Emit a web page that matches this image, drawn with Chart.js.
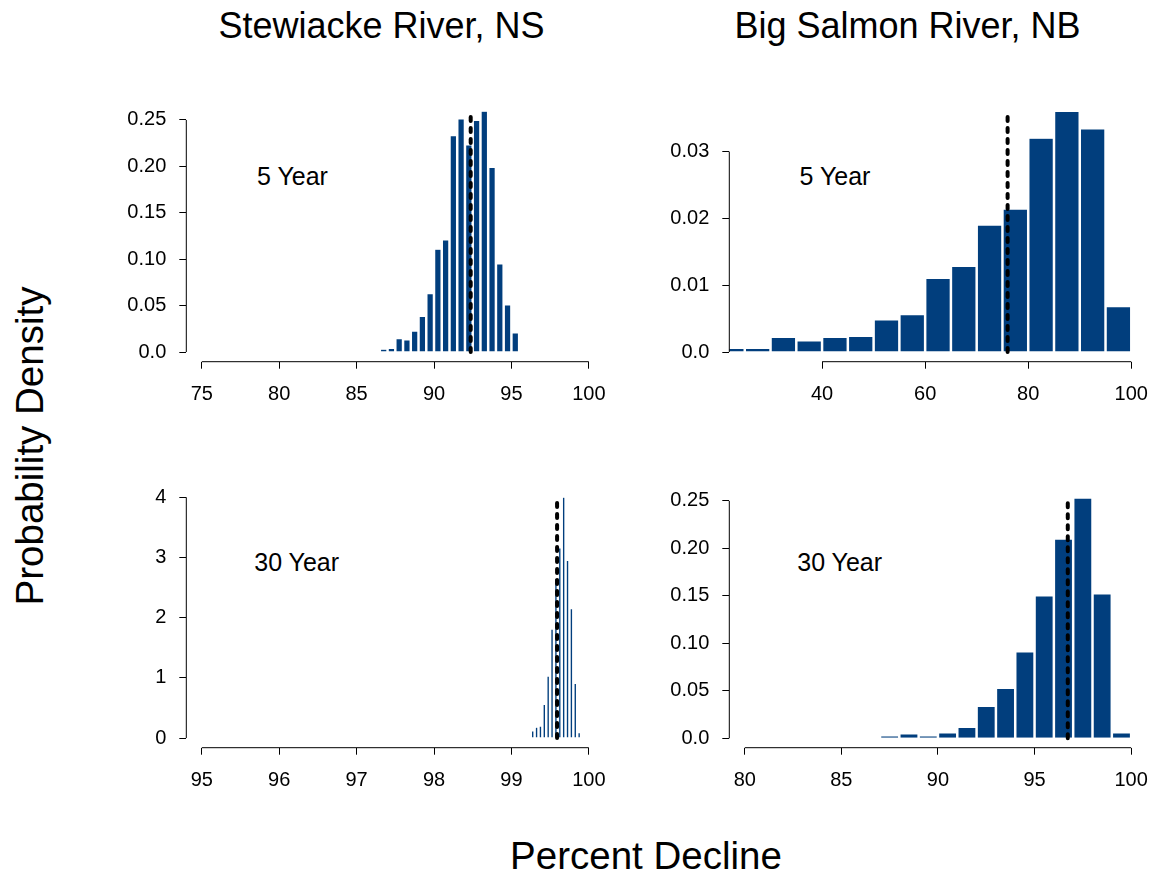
<!DOCTYPE html>
<html>
<head>
<meta charset="utf-8">
<script src="https://cdn.jsdelivr.net/npm/chart.js@4.4.1/dist/chart.umd.min.js"></script>
<style>
  html, body { margin: 0; padding: 0; background: #fff; }
  body {
    width: 1156px; height: 878px; position: relative; overflow: hidden;
    font-family: "Liberation Sans", Arial, Helvetica, sans-serif; color: #000;
  }
  canvas { position: absolute; }
  .t { position: absolute; white-space: nowrap; line-height: 1; transform: translate(-50%, -50%); }
  .title { font-size: 36px; }
  .axis { font-size: 38.5px; }
  .note { font-size: 25px; }
</style>
</head>
<body>
<div class="t title" style="left:381.5px; top:26px;">Stewiacke River, NS</div>
<div class="t title" style="left:907.5px; top:26px;">Big Salmon River, NB</div>
<div class="t axis" style="left:30px; top:446px; transform: translate(-50%, -50%) rotate(-90deg);">Probability Density</div>
<div class="t axis" style="left:646px; top:856px;">Percent Decline</div>
<div class="t note" style="left:292.5px; top:176px;">5 Year</div>
<div class="t note" style="left:835px; top:176px;">5 Year</div>
<div class="t note" style="left:296.7px; top:562px;">30 Year</div>
<div class="t note" style="left:839.7px; top:562px;">30 Year</div>

<canvas id="p1" width="530" height="330" style="left:100px; top:90px;"></canvas>
<canvas id="p2" width="530" height="330" style="left:640px; top:90px;"></canvas>
<canvas id="p3" width="530" height="330" style="left:100px; top:476px;"></canvas>
<canvas id="p4" width="530" height="330" style="left:640px; top:476px;"></canvas>

<script>
// Stewiacke River, 5-year decline (bins of 0.5 percentage points)
const stewiacke5Centers = [86.75, 87.25, 87.75, 88.25, 88.75, 89.25, 89.75, 90.25, 90.75,
                           91.25, 91.75, 92.25, 92.75, 93.25, 93.75, 94.25, 94.75, 95.25];
const stewiacke5Density = [0.003, 0.004, 0.0143, 0.013, 0.0226, 0.0385, 0.0629, 0.1107, 0.1207,
                           0.2332, 0.2512, 0.2231, 0.2494, 0.2594, 0.199, 0.0949, 0.0507, 0.0205];
const stewiacke5Median = 92.37;

// Big Salmon River, 5-year decline (bins of 5 percentage points)
const salmon5Centers = [22.5, 27.5, 32.5, 37.5, 42.5, 47.5, 52.5, 57.5,
                        62.5, 67.5, 72.5, 77.5, 82.5, 87.5, 92.5, 97.5];
const salmon5Density = [0.00055, 0.00055, 0.0022, 0.00165, 0.0022, 0.00235, 0.0048, 0.0056,
                        0.011, 0.0128, 0.019, 0.0214, 0.032, 0.036, 0.0334, 0.0068];
const salmon5Median = 76.0;

// Stewiacke River, 30-year decline (bins of 0.05 percentage points)
const stewiacke30Centers = [99.275, 99.325, 99.375, 99.425, 99.475, 99.525, 99.575,
                            99.625, 99.675, 99.725, 99.775, 99.825, 99.875];
const stewiacke30Density = [0.12, 0.18, 0.20, 0.56, 1.03, 1.81, 2.65,
                            3.16, 4.00, 2.95, 2.15, 0.91, 0.09];
const stewiacke30Median = 99.59;

// Big Salmon River, 30-year decline (bins of 1 percentage point)
const salmon30Centers = [87.5, 88.5, 89.5, 90.5, 91.5, 92.5, 93.5,
                         94.5, 95.5, 96.5, 97.5, 98.5, 99.5];
const salmon30Density = [0.0024, 0.0046, 0.0024, 0.0056, 0.0116, 0.0337, 0.0526,
                         0.0909, 0.1498, 0.2098, 0.2529, 0.1519, 0.0056];
const salmon30Median = 96.72;

// Axis ticks and their labels
const stewiacke5XTicks = [75, 80, 85, 90, 95, 100];
const salmon5XTicks = [40, 60, 80, 100];
const stewiacke30XTicks = [95, 96, 97, 98, 99, 100];
const salmon30XTicks = [80, 85, 90, 95, 100];

const densityYTicks = [0, 0.05, 0.10, 0.15, 0.20, 0.25];
const densityYLabels = ['0.0', '0.05', '0.10', '0.15', '0.20', '0.25'];
const salmon5YTicks = [0, 0.01, 0.02, 0.03];
const salmon5YLabels = ['0.0', '0.01', '0.02', '0.03'];
const stewiacke30YTicks = [0, 1, 2, 3, 4];
const stewiacke30YLabels = ['0', '1', '2', '3', '4'];

const BAR_FILL = '#013e7d';
const FONT = { family: '"Liberation Sans", Arial, Helvetica, sans-serif', size: 20 };

// Axis lines that run from the first to the last tick only
const tickSpanAxes = {
  id: 'tickSpanAxes',
  afterDraw(chart) {
    const { ctx, chartArea } = chart;
    const xs = chart.scales.x, ys = chart.scales.y;
    ctx.save();
    ctx.strokeStyle = '#000';
    ctx.lineWidth = 1;
    ctx.beginPath();
    const xt = xs.ticks;
    ctx.moveTo(xs.getPixelForValue(xt[0].value), chartArea.bottom);
    ctx.lineTo(xs.getPixelForValue(xt[xt.length - 1].value), chartArea.bottom);
    const yt = ys.ticks;
    ctx.moveTo(chartArea.left, ys.getPixelForValue(yt[0].value));
    ctx.lineTo(chartArea.left, ys.getPixelForValue(yt[yt.length - 1].value));
    ctx.stroke();
    ctx.restore();
  }
};

function histogram(canvasId, opt) {
  const canvas = document.getElementById(canvasId);
  const cLeft = parseFloat(canvas.style.left), cTop = parseFloat(canvas.style.top);
  const area = opt.area;
  const yWidth = area.left - cLeft;
  const xHeight = cTop + canvas.height - area.bottom;
  const padTop = area.top - cTop;
  const padRight = cLeft + canvas.width - area.right;
  const peak = Math.max(...opt.density);

  const fixedTicks = (values) => (scale) => {
    scale.ticks = values.map(v => ({ value: v }));
  };

  return new Chart(canvas, {
    type: 'bar',
    data: {
      datasets: [
        {
          type: 'line',
          order: 0,
          data: [{ x: opt.median, y: 0 }, { x: opt.median, y: peak }],
          borderColor: '#000',
          borderWidth: 4,
          borderDash: [4, 7],
          borderCapStyle: 'round',
          pointRadius: 0,
          fill: false,
          clip: false
        },
        {
          type: 'bar',
          order: 1,
          data: opt.centers.map((c, i) => ({ x: c, y: opt.density[i] })),
          backgroundColor: BAR_FILL,
          borderColor: '#ffffff',
          borderWidth: { top: 0.6, left: 1.25, right: 1.25, bottom: 0 },
          borderSkipped: false,
          inflateAmount: 0,
          barPercentage: 1,
          categoryPercentage: 1,
          grouped: false,
          clip: 0
        }
      ]
    },
    options: {
      responsive: false,
      animation: false,
      events: [],
      layout: { autoPadding: false, padding: { top: padTop, right: padRight, left: 0, bottom: 0 } },
      plugins: { legend: { display: false }, tooltip: { enabled: false } },
      scales: {
        x: {
          type: 'linear',
          position: 'bottom',
          min: opt.xRange[0], max: opt.xRange[1],
          offset: false,
          grid: { display: true, offset: false, drawOnChartArea: false, drawTicks: true, tickLength: 7, color: '#000', lineWidth: 1 },
          border: { display: false },
          ticks: {
            autoSkip: false, maxRotation: 0, padding: 14, color: '#000', font: FONT,
            callback: (v, i) => String(opt.xTicks[i])
          },
          afterBuildTicks: fixedTicks(opt.xTicks),
          afterFit: (s) => { s.height = xHeight; s.paddingLeft = 0; s.paddingRight = 0; s.paddingTop = 0; s.paddingBottom = 0; }
        },
        y: {
          type: 'linear',
          min: opt.yRange[0], max: opt.yRange[1],
          grid: { display: true, drawOnChartArea: false, drawTicks: true, tickLength: 7, color: '#000', lineWidth: 1 },
          border: { display: false },
          ticks: {
            autoSkip: false, padding: 13, color: '#000', font: FONT,
            callback: (v, i) => opt.yLabels[i]
          },
          afterBuildTicks: fixedTicks(opt.yTicks),
          afterFit: (s) => { s.width = yWidth; s.paddingLeft = 0; s.paddingRight = 0; s.paddingTop = 0; s.paddingBottom = 0; }
        }
      }
    },
    plugins: [tickSpanAxes]
  });
}

histogram('p1', {
  area: { left: 186.3, top: 101, right: 604.3, bottom: 361.7 },
  xRange: [74, 101], yRange: [-0.0104, 0.2704],
  centers: stewiacke5Centers, density: stewiacke5Density, median: stewiacke5Median,
  xTicks: stewiacke5XTicks, yTicks: densityYTicks, yLabels: densityYLabels
});

histogram('p2', {
  area: { left: 729.3, top: 101.9, right: 1131.3, bottom: 361.7 },
  xRange: [22, 100], yRange: [-0.001452, 0.03744],
  centers: salmon5Centers, density: salmon5Density, median: salmon5Median,
  xTicks: salmon5XTicks, yTicks: salmon5YTicks, yLabels: salmon5YLabels
});

histogram('p3', {
  area: { left: 186.3, top: 487.6, right: 604.3, bottom: 747.7 },
  xRange: [94.8, 100.2], yRange: [-0.16, 4.16],
  centers: stewiacke30Centers, density: stewiacke30Density, median: stewiacke30Median,
  xTicks: stewiacke30XTicks, yTicks: stewiacke30YTicks, yLabels: stewiacke30YLabels
});

histogram('p4', {
  area: { left: 729.3, top: 488.5, right: 1146.6, bottom: 747.7 },
  xRange: [79.2, 100.8], yRange: [-0.0099, 0.263],
  centers: salmon30Centers, density: salmon30Density, median: salmon30Median,
  xTicks: salmon30XTicks, yTicks: densityYTicks, yLabels: densityYLabels
});
</script>
</body>
</html>
